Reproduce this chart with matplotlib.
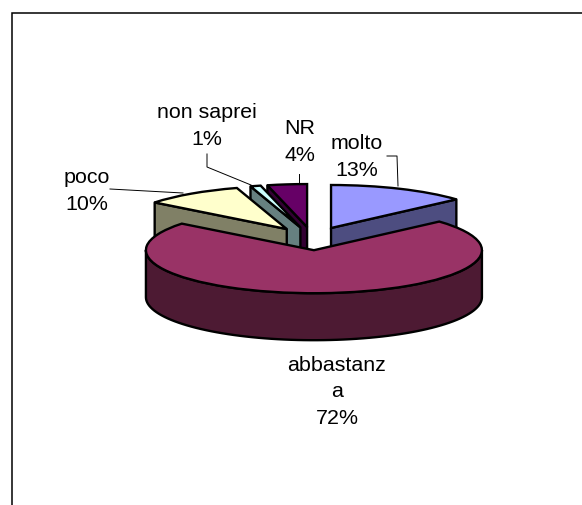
import numpy as np
import matplotlib
matplotlib.use("Agg")
import matplotlib.pyplot as plt
from matplotlib.patches import Polygon

plt.rcParams['font.family'] = ['Liberation Sans', 'DejaVu Sans']

labels = ["molto", "abbastanz\na", "poco", "non saprei", "NR"]
values = [13.4, 72.2, 9.6, 1.0, 3.8]  # labels show these rounded
top_colors = ["#9999FF", "#993366", "#FFFFCC", "#CCFFFF", "#660066"]
wall_colors = ["#4D4D80", "#4D1A33", "#808066", "#668080", "#330033"]
draw_order = [4, 3, 2, 0, 1]  # back to front

W, H = 582, 506
CX, CY = 312.5, 239.6  # pie centre in pixels (y down)
RX, RY = 168, 43       # ellipse radii in pixels
DEPTH = 47 / RY        # wall height in data units
EDGE = 1.7

fig = plt.figure(figsize=(W / 100, H / 100), dpi=100)

# pie axes: circle of radius 1 squashed by the axis limits
ax = fig.add_axes([0, 0, 1, 1])
wedges, _ = ax.pie(values, colors=top_colors, startangle=90, counterclock=False,
                   explode=[0.27] * len(values),
                   wedgeprops=dict(edgecolor='black', linewidth=EDGE))
ax.set_aspect('auto')
ax.set_xlim(-CX / RX, (W - CX) / RX)
ax.set_ylim((CY - H) / RY, CY / RY)
ax.axis('off')


def add_wall(points, color, z):
    pts = list(points) + [(x, y - DEPTH) for x, y in reversed(points)]
    ax.add_patch(Polygon(pts, closed=True, facecolor=color, edgecolor='black',
                         linewidth=EDGE, joinstyle='round', zorder=z))


for rank, i in enumerate(draw_order):
    w = wedges[i]
    z = 2 + rank * 2
    cx, cy = w.center
    t1, t2 = w.theta1, w.theta2  # counterclockwise, degrees

    def rim(t):
        return (cx + np.cos(np.radians(t)), cy + np.sin(np.radians(t)))

    # radial walls that look towards the viewer
    if np.cos(np.radians(t1)) > 1e-6:
        add_wall([(cx, cy), rim(t1)], wall_colors[i], z)
    if np.cos(np.radians(t2)) < -1e-6:
        add_wall([(cx, cy), rim(t2)], wall_colors[i], z)
    # front part of the outer wall
    for lo, hi in [(t1, t2), (t1 + 360, t2 + 360), (t1 - 360, t2 - 360)]:
        a, b = max(lo, 180), min(hi, 360)
        if b > a:
            add_wall([rim(t) for t in np.linspace(a, b, 80)], wall_colors[i], z)
    w.set_zorder(z + 1)

# overlay in pixel coordinates for frame, labels and leader lines
ov = fig.add_axes([0, 0, 1, 1], zorder=50)
ov.set_xlim(0, W)
ov.set_ylim(H, 0)
ov.axis('off')
ov.patch.set_alpha(0)

ov.plot([W, 12, 12], [14, 14, H], color='black', lw=1.1, solid_joinstyle='miter')

label_pos = [(357, 157), (337, 392), (87, 191), (207, 126), (300, 142)]
for name, v, (x, y) in zip(labels, values, label_pos):
    ov.text(x, y, f"{name}\n{round(v)}%", ha='center', va='center', fontsize=15.4,
            linespacing=1.47, color='black')

leaders = [
    ([387, 397, 398], [157, 157, 187]),
    ([110, 183], [190, 194]),
    ([207, 207, 251], [155, 168, 186]),
    ([299, 299], [175, 184]),
]
for xs, ys in leaders:
    ov.plot(xs, ys, color='black', lw=0.7)

fig.savefig("out.png", dpi=100, facecolor='white')
